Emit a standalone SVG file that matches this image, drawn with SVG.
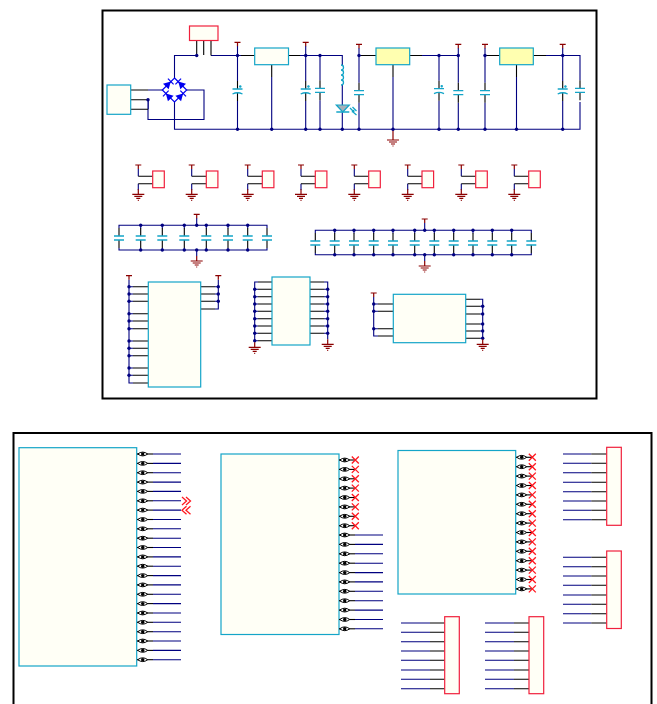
<svg xmlns="http://www.w3.org/2000/svg" xmlns:xlink="http://www.w3.org/1999/xlink" width="657" height="704" viewBox="0 0 657 704">
<style>
.frame{fill:#fff;stroke:#000;stroke-width:2}
.cy{fill:#fffff6;stroke:#14a5c8;stroke-width:1.200}
.ye{fill:#ffffb0;stroke:#14a5c8;stroke-width:1.200}
.rd{fill:#fffff6;stroke:#f0203c;stroke-width:1.200}
.w{fill:none;stroke:#000080;stroke-width:1.100}
.p{fill:none;stroke:#000;stroke-width:1.100}
.cs{fill:none;stroke:#14a5c8;stroke-width:1.300}
.dr{fill:none;stroke:#8b0000;stroke-width:1.200}
.bl{fill:none;stroke:#0000f0;stroke-width:1.200}
.xr{fill:none;stroke:#ff1820;stroke-width:1.300}
.dot{fill:#000080}
</style>
<defs>
<circle id="d" class="dot" r="1.700"/>
<path id="T" class="dr" d="M-3 0H3M0 0V4"/>
<path id="gnd" class="dr" d="M0 -5V0M-6 0H6M-4 2H4M-2 4H2M-.5 6H.5"/>
<g id="cap"><path class="p" d="M0 -10V-2M0 2V10"/><path class="cs" d="M-5 -2H5M-5 2H5"/></g>
<g id="pcap"><path class="p" d="M0 -10V-2M0 1.500V10"/><path class="cs" d="M-5 -2H5M-5 3Q0 .5 5 3M1.500 -4.500H4M2.750 -5.750V-3.250"/></g>
<g id="eye"><path class="p" d="M0 0H16"/><path d="M.7 0Q5.700 -3.800 10.700 0Q5.700 3.800 .7 0Z" fill="#fff" stroke="#000"/><circle cx="5.700" r="1.700" fill="#000"/></g>
<path id="x" class="xr" d="M-3.500 -3.500L3.500 3.500M-3.500 3.500L3.500 -3.500"/>
<g id="diode"><polygon points="-3.500,-4 -3.500,4 3.500,0" fill="#0000f0"/><path class="bl" d="M3.500 -4V4"/></g>
</defs>

<g id="frame-top"><rect class="frame" x="102.500" y="10.500" width="494" height="388"/></g>
<g id="frame-bottom"><rect class="frame" x="13.500" y="433" width="638" height="300"/></g>

<g id="connectors">
<path class="w" d="M174.500 78V55.500H196.700M211 55.500H241M300 55.500H342.300V65M342.300 85V105M342.300 112V129.300M174.500 102V129.300H580V102M148 99.700V119.500H204V90H186.700M148 90H162.300M148.300 109.300V99.700"/>
<path class="w" d="M237.500 46V81M237.500 101V129M305.700 46V81M305.700 101V129M320 55.500V80.300M320 100.300V129M271.700 77V129M359 48V82.700M359 102.700V129M359 55.500H361M422 55.500H458.300V82.700M458.300 48V55M458.300 102.700V129M439 55.500V80.700M439 100.700V129M393 77V129M485 48V82.700M485 102.700V129M485 55.500H487M546 55.500H580V80.300M562.700 48V81M562.700 101V129M516.500 77V129"/>
<path class="p" d="M196.700 40.300V55.500M203.700 40.300V55M211 40.300V55.500M130.700 90H148M130.700 99.700H148M130.700 109.300H148M241 55.500H254.700M288.500 55.500H300M271.700 64.700V77M361 55.500H376M409.700 55.500H422M393 64.700V77M485 55.500H499.700M533.300 55.500H546M516.500 64.700V77"/>
<path class="dr" d="M393 129.300V135"/>
<path class="w" d="M138.300 169V176.300M138.300 183.700V190M191.700 169V176.300M191.700 183.700V190M247.700 169V176.300M247.700 183.700V190M301 169V176.300M301 183.700V190M354.300 169V176.300M354.300 183.700V190M407.700 169V176.300M407.700 183.700V190M461.300 169V176.300M461.300 183.700V190M514.300 169V176.300M514.300 183.700V190"/>
<path class="p" d="M138.300 176.300H152.700M138.300 183.700H152.700M191.700 176.300H206.300M191.700 183.700H206.300M247.700 176.300H262.300M247.700 183.700H262.300M301 176.300H315.300M301 183.700H315.300M354.300 176.300H368.700M354.300 183.700H368.700M407.700 176.300H422M407.700 183.700H422M461.300 176.300H475.700M461.300 183.700H475.700M514.300 176.300H528.700M514.300 183.700H528.700"/>
<path class="w" d="M119 228V225.300H267V228M119 248V250H267V248M140.700 225.300v3M162.300 225.300v3M184.300 225.300v3M206.300 225.300v3M228 225.300v3M247.700 225.300v3M140.700 248v2M162.300 248v2M184.300 248v2M206.300 248v2M228 248v2M247.700 248v2M196.700 218V225.300M196.700 250V256"/>
<path class="w" d="M315.300 233V230.300H531.300V233M315.300 253V254.700H531.300V253M334.700 230.300v3M354 230.300v3M373.700 230.300v3M393 230.300v3M414.700 230.300v3M434.300 230.300v3M453.700 230.300v3M473 230.300v3M492.300 230.300v3M511.700 230.300v3M334.700 253v2M354 253v2M373.700 253v2M393 253v2M414.700 253v2M434.300 253v2M453.700 253v2M473 253v2M492.300 253v2M511.700 253v2M424.700 223V230.300M424.700 254.700V261"/>
<path class="w" d="M129 279.700V383H133M129 286.700H133M129 294H133M129 301.300H133M129 313.700H133M129 321H133M129 328.700H133M129 341H133M129 348.300H133M129 355.700H133M129 368H133M129 375.300H133M218.300 279.700V309H215M218.300 286.700H215M218.300 294H215M218.300 301.300H215"/>
<path class="p" d="M133 286.700H148.300M133 294H148.300M133 301.300H148.300M133 313.700H148.300M133 321H148.300M133 328.700H148.300M133 341H148.300M133 348.300H148.300M133 355.700H148.300M133 368H148.300M133 375.300H148.300M133 383H148.300M200.700 286.700H215M200.700 294H215M200.700 301.300H215M200.700 309H215"/>
<path class="w" d="M254.700 342.300V282H258M254.700 289.300H258M254.700 296.700H258M254.700 304H258M254.700 311.300H258M254.700 318.700H258M254.700 326H258M254.700 333.300H258M254.700 340.700H258M327.700 339.300V282H324M327.700 289.300H324M327.700 296.700H324M327.700 304H324M327.700 311.300H324M327.700 318.700H324M327.700 326H324M327.700 333.300H324"/>
<path class="p" d="M258 282H272M258 289.300H272M258 296.700H272M258 304H272M258 311.300H272M258 318.700H272M258 326H272M258 333.300H272M258 340.700H272M310 282H324M310 289.300H324M310 296.700H324M310 304H324M310 311.300H324M310 318.700H324M310 326H324M310 333.300H324"/>
<path class="w" d="M373.700 297V336H378M373.700 304H378M373.700 311.300H378M373.700 328.700H378M482.700 339.300V299.300H480M482.700 306.300H480M482.700 314H480M482.700 324H480M482.700 331H480M482.700 338.300H480"/>
<path class="p" d="M378 304H393.300M378 311.300H393.300M378 328.700H393.300M378 336H393.300M465.700 299.300H480M465.700 306.300H480M465.700 314H480M465.700 324H480M465.700 331H480M465.700 338.300H480"/>
<path class="w" d="M153 454H181M153 463.400H181M153 472.700H181M153 482.100H181M153 491.400H181M153 500.800H181M153 510.100H181M153 519.500H181M153 528.800H181M153 538.200H181M153 547.500H181M153 556.900H181M153 566.200H181M153 575.600H181M153 584.900H181M153 594.300H181M153 603.600H181M153 613H181M153 622.300H181M153 631.700H181M153 641H181M153 650.400H181M153 659.700H181"/>
<path class="w" d="M355 535H383M355 544.400H383M355 553.800H383M355 563.200H383M355 572.600H383M355 581.900H383M355 591.300H383M355 600.700H383M355 610.100H383M355 619.500H383M355 628.800H383"/>
<path class="w" d="M563 454H591.300M563 463.300H591.300M563 472.700H591.300M563 482.300H591.300M563 491.700H591.300M563 501H591.300M563 510.300H591.300M563 519.700H591.300M563 557.300H591.300M563 566.700H591.300M563 576H591.300M563 585.300H591.300M563 595H591.300M563 604.300H591.300M563 613.700H591.300M563 623H591.300"/>
<path class="p" d="M591.300 454H606.700M591.300 463.300H606.700M591.300 472.700H606.700M591.300 482.300H606.700M591.300 491.700H606.700M591.300 501H606.700M591.300 510.300H606.700M591.300 519.700H606.700M591.300 557.300H606.700M591.300 566.700H606.700M591.300 576H606.700M591.300 585.300H606.700M591.300 595H606.700M591.300 604.300H606.700M591.300 613.700H606.700M591.300 623H606.700"/>
<path class="w" d="M401 623H430M401 632.300H430M401 641.700H430M401 651H430M401 660.300H430M401 670H430M401 679.300H430M401 688.700H430M485 623H514M485 632.300H514M485 641.700H514M485 651H514M485 660.300H514M485 670H514M485 679.300H514M485 688.700H514"/>
<path class="p" d="M430 623H444.700M430 632.300H444.700M430 641.700H444.700M430 651H444.700M430 660.300H444.700M430 670H444.700M430 679.300H444.700M430 688.700H444.700M514 623H529M514 632.300H529M514 641.700H529M514 651H529M514 660.300H529M514 670H529M514 679.300H529M514 688.700H529"/>
<g id="junctions">
<use href="#d" x="196.700" y="55.500"/><use href="#d" x="237.500" y="55.500"/><use href="#d" x="305.700" y="55.500"/><use href="#d" x="359" y="55.500"/><use href="#d" x="439" y="55.500"/><use href="#d" x="458.300" y="55.500"/><use href="#d" x="485" y="55.500"/><use href="#d" x="562.700" y="55.500"/><use href="#d" x="148" y="99.700"/><use href="#d" x="320" y="55.500"/>
<use href="#d" x="237.500" y="129.300"/><use href="#d" x="271.700" y="129.300"/><use href="#d" x="305.700" y="129.300"/><use href="#d" x="320" y="129.300"/><use href="#d" x="342.300" y="129.300"/><use href="#d" x="359" y="129.300"/><use href="#d" x="393" y="129.300"/><use href="#d" x="439" y="129.300"/><use href="#d" x="458.300" y="129.300"/><use href="#d" x="485" y="129.300"/><use href="#d" x="516.500" y="129.300"/><use href="#d" x="562.700" y="129.300"/>
<use href="#d" x="140.700" y="225.300"/><use href="#d" x="162.300" y="225.300"/><use href="#d" x="184.300" y="225.300"/><use href="#d" x="196.700" y="225.300"/><use href="#d" x="206.300" y="225.300"/><use href="#d" x="228" y="225.300"/><use href="#d" x="247.700" y="225.300"/>
<use href="#d" x="140.700" y="250"/><use href="#d" x="162.300" y="250"/><use href="#d" x="184.300" y="250"/><use href="#d" x="196.700" y="250"/><use href="#d" x="206.300" y="250"/><use href="#d" x="228" y="250"/><use href="#d" x="247.700" y="250"/>
<use href="#d" x="334.700" y="230.300"/><use href="#d" x="354" y="230.300"/><use href="#d" x="373.700" y="230.300"/><use href="#d" x="393" y="230.300"/><use href="#d" x="414.700" y="230.300"/><use href="#d" x="424.700" y="230.300"/><use href="#d" x="434.300" y="230.300"/><use href="#d" x="453.700" y="230.300"/><use href="#d" x="473" y="230.300"/><use href="#d" x="492.300" y="230.300"/><use href="#d" x="511.700" y="230.300"/>
<use href="#d" x="334.700" y="254.700"/><use href="#d" x="354" y="254.700"/><use href="#d" x="373.700" y="254.700"/><use href="#d" x="393" y="254.700"/><use href="#d" x="414.700" y="254.700"/><use href="#d" x="424.700" y="254.700"/><use href="#d" x="434.300" y="254.700"/><use href="#d" x="453.700" y="254.700"/><use href="#d" x="473" y="254.700"/><use href="#d" x="492.300" y="254.700"/><use href="#d" x="511.700" y="254.700"/>
<use href="#d" x="129" y="286.700"/><use href="#d" x="129" y="294"/><use href="#d" x="129" y="301.300"/><use href="#d" x="129" y="313.700"/><use href="#d" x="129" y="321"/><use href="#d" x="129" y="328.700"/><use href="#d" x="129" y="341"/><use href="#d" x="129" y="348.300"/><use href="#d" x="129" y="355.700"/><use href="#d" x="129" y="368"/><use href="#d" x="129" y="375.300"/>
<use href="#d" x="218.300" y="286.700"/><use href="#d" x="218.300" y="294"/><use href="#d" x="218.300" y="301.300"/>
<use href="#d" x="254.700" y="289.300"/><use href="#d" x="254.700" y="296.700"/><use href="#d" x="254.700" y="304"/><use href="#d" x="254.700" y="311.300"/><use href="#d" x="254.700" y="318.700"/><use href="#d" x="254.700" y="326"/><use href="#d" x="254.700" y="333.300"/><use href="#d" x="254.700" y="340.700"/>
<use href="#d" x="327.700" y="289.300"/><use href="#d" x="327.700" y="296.700"/><use href="#d" x="327.700" y="304"/><use href="#d" x="327.700" y="311.300"/><use href="#d" x="327.700" y="318.700"/><use href="#d" x="327.700" y="326"/><use href="#d" x="327.700" y="333.300"/>
<use href="#d" x="373.700" y="304"/><use href="#d" x="373.700" y="311.300"/><use href="#d" x="373.700" y="328.700"/>
<use href="#d" x="482.700" y="306.300"/><use href="#d" x="482.700" y="314"/><use href="#d" x="482.700" y="324"/><use href="#d" x="482.700" y="331"/><use href="#d" x="482.700" y="338.300"/>
</g>
</g>

<g id="J1"><rect class="rd" x="189.500" y="26" width="28.500" height="14.500"/></g>
<g id="CN1"><rect class="cy" x="107" y="85" width="23.700" height="29.300"/></g>
<g id="BR1">
<path class="bl" d="M174.500 78L186.700 90L174.500 102L162.300 90Z"/>
<use href="#diode" transform="translate(168.300 84) rotate(-45)"/>
<use href="#diode" transform="translate(180.700 84) rotate(-135)"/>
<use href="#diode" transform="translate(168.300 96) rotate(-135)"/>
<use href="#diode" transform="translate(180.700 96) rotate(-45)"/>
</g>
<g id="U1"><rect class="cy" x="254.700" y="48" width="33.800" height="16.700"/></g>
<g id="U2"><rect class="ye" x="376" y="48" width="33.700" height="16.700"/></g>
<g id="U3"><rect class="ye" x="499.700" y="48" width="33.600" height="16.700"/></g>
<g id="L1"><path class="cs" d="M341 65a2.500 2.500 0 0 1 0 5a2.500 2.500 0 0 1 0 5a2.500 2.500 0 0 1 0 5a2.500 2.500 0 0 1 0 5"/></g>
<g id="LED1">
<polygon points="336.300,105 349.300,105 342.800,112" fill="#a8b0b8" stroke="#14a5c8" stroke-width="1.200"/>
<path class="cs" d="M336.300 112H349.300M350 108L354 112M352.500 107L356.500 111M354 112l-.5-2.200M354 112l-2.200-.5M356.500 115l-3.500-3"/>
</g>
<g id="power-symbols">
<use href="#T" x="237.500" y="42.300"/><use href="#T" x="305.700" y="42.300"/><use href="#T" x="359" y="44.300"/><use href="#T" x="458.300" y="44.300"/><use href="#T" x="485" y="44.300"/><use href="#T" x="562.700" y="44.300"/>
<use href="#gnd" x="393" y="140"/>
<use href="#T" x="138.300" y="165"/><use href="#T" x="191.700" y="165"/><use href="#T" x="247.700" y="165"/><use href="#T" x="301" y="165"/><use href="#T" x="354.300" y="165"/><use href="#T" x="407.700" y="165"/><use href="#T" x="461.300" y="165"/><use href="#T" x="514.300" y="165"/>
<use href="#gnd" x="138.300" y="194.300"/><use href="#gnd" x="191.700" y="194.300"/><use href="#gnd" x="247.700" y="194.300"/><use href="#gnd" x="301" y="194.300"/><use href="#gnd" x="354.300" y="194.300"/><use href="#gnd" x="407.700" y="194.300"/><use href="#gnd" x="461.300" y="194.300"/><use href="#gnd" x="514.300" y="194.300"/>
<use href="#T" x="196.700" y="214.300"/><use href="#gnd" x="196.700" y="261"/>
<use href="#T" x="424.700" y="219"/><use href="#gnd" x="424.700" y="266"/>
<use href="#T" x="129" y="275.700"/><use href="#T" x="218.300" y="275.700"/>
<use href="#gnd" x="254.700" y="347.300"/><use href="#gnd" x="327.700" y="344.300"/>
<use href="#T" x="373.700" y="293"/><use href="#gnd" x="482.700" y="344.300"/>
</g>
<g id="caps-power">
<g id="C1"><use href="#pcap" x="237.500" y="91"/></g>
<g id="C2"><use href="#pcap" x="305.700" y="91"/></g>
<g id="C3"><use href="#cap" x="320" y="90.300"/></g>
<g id="C4"><use href="#cap" x="359" y="92.700"/></g>
<g id="C5"><use href="#pcap" x="439" y="90.700"/></g>
<g id="C6"><use href="#cap" x="458.300" y="92.700"/></g>
<g id="C7"><use href="#cap" x="485" y="92.700"/></g>
<g id="C8"><use href="#pcap" x="562.700" y="91"/></g>
<g id="C9"><use href="#cap" x="580" y="90.300"/></g>
</g>
<g id="sw1"><rect class="rd" x="152.700" y="171" width="11.600" height="16.700"/></g>
<g id="sw2"><rect class="rd" x="206.300" y="171" width="11.600" height="16.700"/></g>
<g id="sw3"><rect class="rd" x="262.300" y="171" width="11.600" height="16.700"/></g>
<g id="sw4"><rect class="rd" x="315.300" y="171" width="11.600" height="16.700"/></g>
<g id="sw5"><rect class="rd" x="368.700" y="171" width="11.600" height="16.700"/></g>
<g id="sw6"><rect class="rd" x="422" y="171" width="11.600" height="16.700"/></g>
<g id="sw7"><rect class="rd" x="475.700" y="171" width="11.600" height="16.700"/></g>
<g id="sw8"><rect class="rd" x="528.700" y="171" width="11.600" height="16.700"/></g>
<g id="caps-row1">
<use href="#cap" x="119" y="238"/><use href="#cap" x="140.700" y="238"/><use href="#cap" x="162.300" y="238"/><use href="#cap" x="184.300" y="238"/><use href="#cap" x="206.300" y="238"/><use href="#cap" x="228" y="238"/><use href="#cap" x="247.700" y="238"/><use href="#cap" x="267" y="238"/>
</g>
<g id="caps-row2">
<use href="#cap" x="315.300" y="243"/><use href="#cap" x="334.700" y="243"/><use href="#cap" x="354" y="243"/><use href="#cap" x="373.700" y="243"/><use href="#cap" x="393" y="243"/><use href="#cap" x="414.700" y="243"/><use href="#cap" x="434.300" y="243"/><use href="#cap" x="453.700" y="243"/><use href="#cap" x="473" y="243"/><use href="#cap" x="492.300" y="243"/><use href="#cap" x="511.700" y="243"/><use href="#cap" x="531.300" y="243"/>
</g>
<g id="IC1"><rect class="cy" x="148.300" y="282" width="52.400" height="105"/></g>
<g id="IC2"><rect class="cy" x="272" y="277" width="38" height="68"/></g>
<g id="IC3"><rect class="cy" x="393.300" y="294.300" width="72.400" height="48.400"/></g>

<g id="MCU1">
<rect class="cy" x="19" y="447.700" width="117.700" height="218.300"/>
<use href="#eye" x="137" y="454"/><use href="#eye" x="137" y="463.400"/><use href="#eye" x="137" y="472.700"/><use href="#eye" x="137" y="482.100"/><use href="#eye" x="137" y="491.400"/><use href="#eye" x="137" y="500.800"/><use href="#eye" x="137" y="510.100"/><use href="#eye" x="137" y="519.500"/><use href="#eye" x="137" y="528.800"/><use href="#eye" x="137" y="538.200"/><use href="#eye" x="137" y="547.500"/><use href="#eye" x="137" y="556.900"/><use href="#eye" x="137" y="566.200"/><use href="#eye" x="137" y="575.600"/><use href="#eye" x="137" y="584.900"/><use href="#eye" x="137" y="594.300"/><use href="#eye" x="137" y="603.600"/><use href="#eye" x="137" y="613"/><use href="#eye" x="137" y="622.300"/><use href="#eye" x="137" y="631.700"/><use href="#eye" x="137" y="641"/><use href="#eye" x="137" y="650.400"/><use href="#eye" x="137" y="659.700"/>
<path class="xr" d="M182 497L186.500 501L182 505M186 497L190.500 501L186 505M186.500 506.200L182 510.200L186.500 514.200M190.500 506.200L186 510.200L190.500 514.200"/>
</g>
<g id="MCU2">
<rect class="cy" x="221" y="454" width="118" height="180.500"/>
<use href="#eye" x="339" y="460"/><use href="#eye" x="339" y="469.400"/><use href="#eye" x="339" y="478.800"/><use href="#eye" x="339" y="488.100"/><use href="#eye" x="339" y="497.500"/><use href="#eye" x="339" y="506.900"/><use href="#eye" x="339" y="516.300"/><use href="#eye" x="339" y="525.700"/><use href="#eye" x="339" y="535"/><use href="#eye" x="339" y="544.400"/><use href="#eye" x="339" y="553.800"/><use href="#eye" x="339" y="563.200"/><use href="#eye" x="339" y="572.600"/><use href="#eye" x="339" y="581.900"/><use href="#eye" x="339" y="591.300"/><use href="#eye" x="339" y="600.700"/><use href="#eye" x="339" y="610.100"/><use href="#eye" x="339" y="619.500"/><use href="#eye" x="339" y="628.800"/>
<use href="#x" x="355.300" y="460"/><use href="#x" x="355.300" y="469.400"/><use href="#x" x="355.300" y="478.800"/><use href="#x" x="355.300" y="488.100"/><use href="#x" x="355.300" y="497.500"/><use href="#x" x="355.300" y="506.900"/><use href="#x" x="355.300" y="516.300"/><use href="#x" x="355.300" y="525.700"/>
</g>
<g id="MCU3">
<rect class="cy" x="398" y="450.500" width="117.700" height="143.500"/>
<use href="#eye" x="516" y="457.300"/><use href="#eye" x="516" y="466.700"/><use href="#eye" x="516" y="476.100"/><use href="#eye" x="516" y="485.500"/><use href="#eye" x="516" y="494.900"/><use href="#eye" x="516" y="504.300"/><use href="#eye" x="516" y="513.700"/><use href="#eye" x="516" y="523.100"/><use href="#eye" x="516" y="532.500"/><use href="#eye" x="516" y="541.900"/><use href="#eye" x="516" y="551.300"/><use href="#eye" x="516" y="560.700"/><use href="#eye" x="516" y="570.100"/><use href="#eye" x="516" y="579.500"/><use href="#eye" x="516" y="588.900"/>
<use href="#x" x="532.300" y="457.300"/><use href="#x" x="532.300" y="466.700"/><use href="#x" x="532.300" y="476.100"/><use href="#x" x="532.300" y="485.500"/><use href="#x" x="532.300" y="494.900"/><use href="#x" x="532.300" y="504.300"/><use href="#x" x="532.300" y="513.700"/><use href="#x" x="532.300" y="523.100"/><use href="#x" x="532.300" y="532.500"/><use href="#x" x="532.300" y="541.900"/><use href="#x" x="532.300" y="551.300"/><use href="#x" x="532.300" y="560.700"/><use href="#x" x="532.300" y="570.100"/><use href="#x" x="532.300" y="579.500"/><use href="#x" x="532.300" y="588.900"/>
</g>
<g id="P1"><rect class="rd" x="606.700" y="447.300" width="14.600" height="78"/></g>
<g id="P2"><rect class="rd" x="606.700" y="551" width="14.600" height="77.500"/></g>
<g id="P3"><rect class="rd" x="444.700" y="616.700" width="14.600" height="77"/></g>
<g id="P4"><rect class="rd" x="529" y="616.700" width="14.700" height="77"/></g>
</svg>
